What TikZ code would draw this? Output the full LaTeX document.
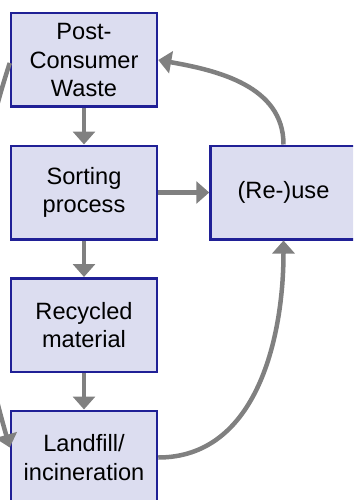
\documentclass[tikz,border=0pt]{standalone}
\usepackage{fontspec}
\setmainfont{Liberation Sans}
\usetikzlibrary{positioning,arrows.meta}

\definecolor{boxfill}{RGB}{220,221,240}
\definecolor{boxline}{RGB}{32,32,150}
\definecolor{flowgray}{RGB}{128,128,128}

\begin{document}
\begin{tikzpicture}[x=1pt,y=1pt]
\tikzstyle{stage}=[draw=boxline, line width=2.5pt, fill=boxfill, minimum width=146pt, minimum height=93.5pt, inner sep=0pt, align=center, font=\fontsize{23.6}{28.5}\selectfont]
\tikzstyle{flow}=[draw=flowgray, line width=4.5pt, -{Triangle[length=13pt,width=22pt]}]
\useasboundingbox (0,0) rectangle (353,-500);
\clip (0,0) rectangle (353,-500);
% boxes
\node[stage] (waste) at (84,-60) {Post-\\Consumer\\Waste};
\node[stage, below=36.5pt of waste] (sorting) {Sorting\\process};
\node[stage, right=51pt of sorting] (reuse) {(Re-)use};
\node[stage, below=36.5pt of sorting] (recycled) {Recycled\\material};
\node[stage, below=36.5pt of recycled] (landfill) {Landfill/\\incineration};
% flows
\draw[flow] (waste) -- (sorting);
\draw[flow] (sorting) -- (recycled);
\draw[flow] (recycled) -- (landfill);
\draw[flow] (sorting) -- (reuse);
\draw[flow] (reuse.north) to[out=90,in=-10] (waste.east);
\draw[flow] (landfill.east) to[out=0,in=-90] (reuse.south);
\draw[flow] ([yshift=-3pt]waste.west) to[out=252,in=106] ([yshift=10pt]landfill.west);
\end{tikzpicture}
\end{document}
